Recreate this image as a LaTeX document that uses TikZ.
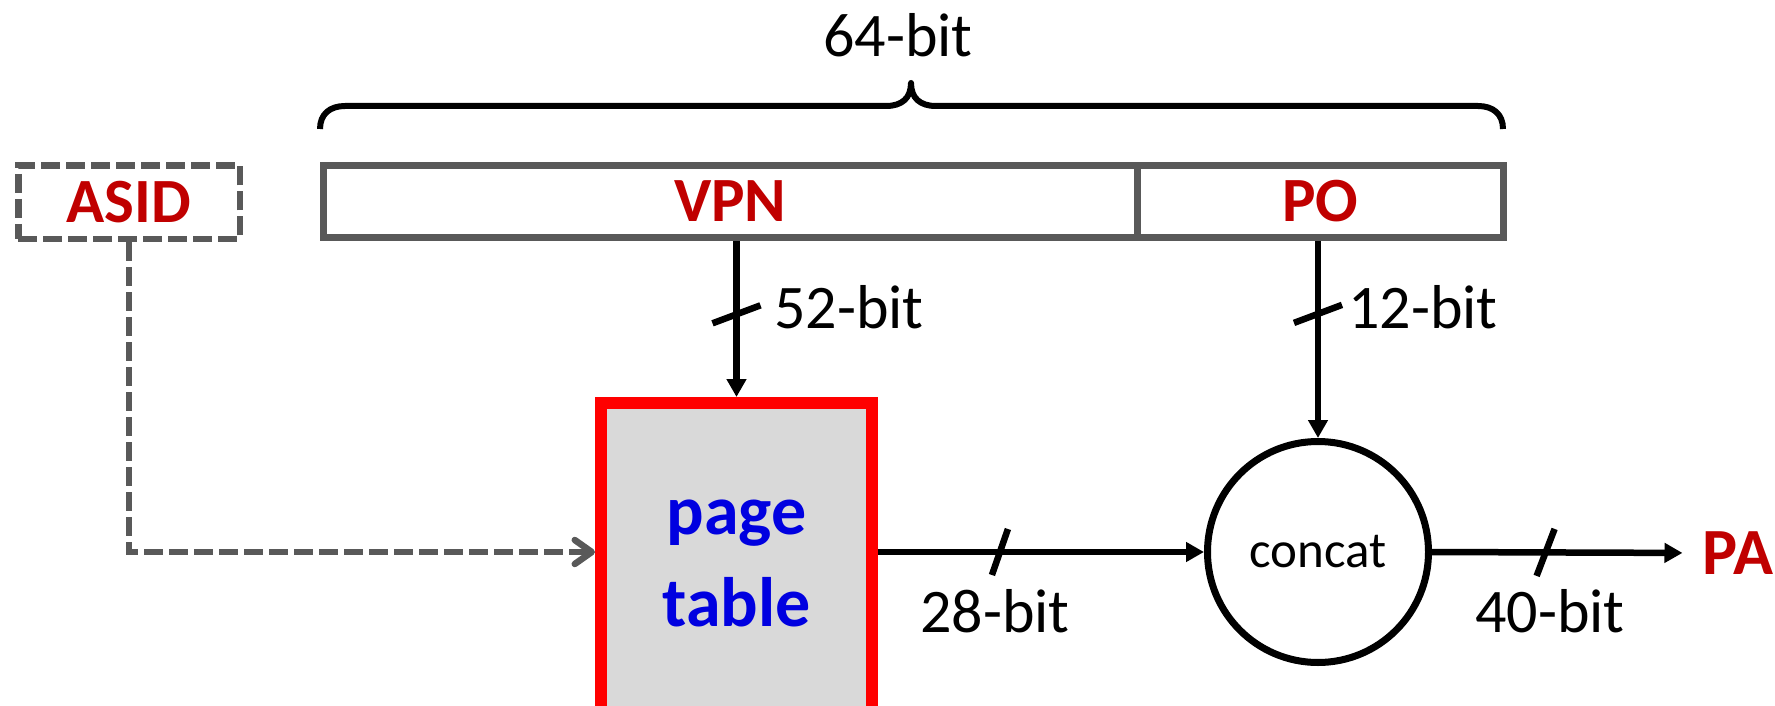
\documentclass[tikz,border=0pt]{standalone}
\usepackage{fontspec}
\setmainfont{Carlito}
\usetikzlibrary{arrows.meta,calc}
\definecolor{dgray}{HTML}{595959}
\definecolor{tred}{HTML}{C00000}
\definecolor{bred}{HTML}{FF0000}
\definecolor{tblue}{HTML}{0000E0}
\definecolor{pgfill}{HTML}{D9D9D9}
\begin{document}
\begin{tikzpicture}[x=1pt,y=-1pt,
  field/.style={draw=dgray,line width=7pt,inner sep=0pt,minimum height=72pt,
    font=\fontsize{63}{75}\selectfont\bfseries,text=tred},
  asidbox/.style={draw=dgray,line width=6.5pt,dash pattern=on 19pt off 6pt,inner sep=0pt,
    minimum width=221.5pt,minimum height=73.5pt,font=\fontsize{63}{75}\selectfont\bfseries,text=tred},
  ptbox/.style={draw=bred,fill=pgfill,line width=12pt,minimum width=271pt,minimum height=320pt,
    inner sep=0pt,align=center,text=tblue,font=\fontsize{70}{92}\selectfont\bfseries},
  ccbox/.style={circle,draw=black,line width=7pt,minimum size=221pt,inner sep=0pt,
    font=\fontsize{51}{60}\selectfont},
  lab/.style={inner sep=0pt,font=\fontsize{62}{74}\selectfont},
  palab/.style={inner sep=0pt,text=tred,font=\fontsize{66}{78}\selectfont\bfseries},
  conn/.style={line width=6.5pt,-{Triangle[length=18pt,width=19pt]}},
  asidline/.style={draw=dgray,line width=6.5pt,dash pattern=on 19pt off 6pt,
    -{Straight Barb[length=17pt,width=24pt,round]}},
  slash/.style={line width=6.5pt},
  bracepath/.style={line width=6pt,line join=round}]
\useasboundingbox (0,0) rectangle (1775,706);

% register
\node[field,minimum width=813.5pt] (VPN) at (730.25,201.5) {VPN};
\node[field,minimum width=366.5pt] (PO) at (1320.25,201.5) {PO};
\node[asidbox] (ASID) at (129,202) {ASID};

% brace and width label
\draw[bracepath] (320,129) .. controls (320,114) and (330,106) .. (345,106) -- (886,106)
  .. controls (902,106) and (911,98) .. (911,83)
  .. controls (911,98) and (920,106) .. (936,106) -- (1478,106)
  .. controls (1493,106) and (1503,114) .. (1503,129);
\node[lab,anchor=base] (l64) at (898,57) {64-bit};

% blocks
\node[ptbox] (pt) at (736.5,563) {page\\table};
\node[ccbox] (cc) at (1318,552) {concat};
\node[palab] (PA) at (1738,553) {PA};

% connectors
\draw[conn] (VPN.south -| pt.north) -- (pt.north);
\draw[conn] (PO.south -| cc.north) -- (cc.north);
\draw[conn] (pt.east |- cc.west) -- (cc.west);
\draw[conn,shorten >=20pt] (cc.east) -- (PA.west);
\draw[asidline] (ASID.south) |- (pt.west |- cc.west);

% bus-width slashes
\draw[slash] ($(pt.north)!0.53!(VPN.south -| pt.north)$) ++(-24,9) -- ++(48,-18);
\draw[slash] ($(cc.north)!0.63!(PO.south -| cc.north)$) ++(-24,9) -- ++(48,-18);
\draw[slash] ($(pt.east |- cc.west)!0.374!(cc.west)$) ++(-8,23) -- ++(16,-46);
\draw[slash] ($(cc.east)!0.42!(PA.west)$) ++(-9,23.5) -- ++(18,-47);

% width labels
\node[lab,anchor=base west] (l52) at (774,328) {52-bit};
\node[lab,anchor=base west] (l12) at (1348,328) {12-bit};
\node[lab,anchor=base] (l28) at (995,632) {28-bit};
\node[lab,anchor=base] (l40) at (1550,632) {40-bit};
\end{tikzpicture}
\end{document}
